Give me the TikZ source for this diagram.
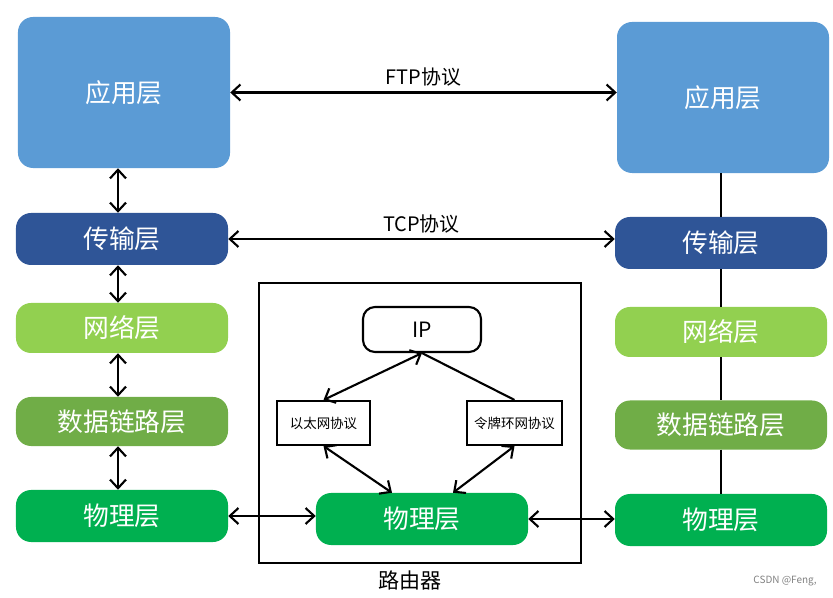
\documentclass[tikz,border=0pt]{standalone}
\usepackage{fontspec}
\setmainfont{Noto Sans CJK SC}
\usetikzlibrary{arrows.meta}

\definecolor{appblue}{HTML}{5B9BD5}
\definecolor{tcpblue}{HTML}{2F5597}
\definecolor{netgreen}{HTML}{92D050}
\definecolor{linkgreen}{HTML}{70AD47}
\definecolor{phygreen}{HTML}{00B050}

\tikzset{
  layer/.style={rounded corners=0.45cm, text=white, minimum width=6.36cm,
    font=\fontsize{22}{26}\selectfont, inner sep=0pt},
  proto/.style={draw, line width=1.8pt, minimum width=2.8cm, minimum height=1.32cm,
    font=\fontsize{11.5}{14}\selectfont, inner sep=0pt},
  link/.style={line width=1.8pt, {Straight Barb[length=2.6mm,width=4.8mm]}-{Straight Barb[length=2.6mm,width=4.8mm]}},
  plain/.style={line width=1.8pt},
  caption/.style={font=\fontsize{17}{20}\selectfont},
}

\begin{document}
\begin{tikzpicture}[x=0.03cm, y=-0.03cm]
\useasboundingbox (0,0) rectangle (833,598);

% left stack
\node[layer, fill=appblue, minimum height=4.53cm] (la) at (124,92.5) {应用层};
\node[layer, fill=tcpblue, minimum height=1.56cm] (lt) at (122,239) {传输层};
\node[layer, fill=netgreen, minimum height=1.5cm] (ln) at (122,328) {网络层};
\node[layer, fill=linkgreen, minimum height=1.47cm] (ld) at (122,421.5) {数据链路层};
\node[layer, fill=phygreen, minimum height=1.56cm] (lp) at (122,516) {物理层};

% right stack
\node[layer, fill=appblue, minimum height=4.53cm] (ra) at (723,97.5) {应用层};
\node[layer, fill=tcpblue, minimum height=1.56cm] (rt) at (721,243) {传输层};
\node[layer, fill=netgreen, minimum height=1.5cm] (rn) at (721,332) {网络层};
\node[layer, fill=linkgreen, minimum height=1.47cm] (rd) at (721,425) {数据链路层};
\node[layer, fill=phygreen, minimum height=1.56cm] (rp) at (721,520) {物理层};

% router
\node[draw, line width=1.8pt, minimum width=9.66cm, minimum height=8.4cm] (router) at (420,423) {};
\node[font=\fontsize{18}{21}\selectfont] (rlabel) at (410,580) {路由器};
\node[draw, line width=1.8pt, rounded corners=0.36cm, minimum width=3.54cm, minimum height=1.35cm,
  font=\fontsize{18}{21}\selectfont] (ip) at (422,329.5) {IP};
\node[proto] (eth) at (323.5,423) {以太网协议};
\node[proto, minimum width=2.85cm] (tok) at (514.5,423) {令牌环网协议};
\node[layer, fill=phygreen, minimum height=1.56cm] (rtp) at (422,519) {物理层};

\draw[link] ([xshift=-0.12cm]lt.north |- la.south) -- ([xshift=-0.12cm]lt.north);
\draw[link] ([xshift=-0.12cm]lt.south) -- ([xshift=-0.12cm]ln.north);
\draw[link] ([xshift=-0.12cm]ln.south) -- ([xshift=-0.12cm]ld.north);
\draw[link] ([xshift=-0.12cm]ld.south) -- ([xshift=-0.12cm]lp.north);

\draw[plain] (rt.north |- ra.south) -- (rt.north);
\draw[plain] (rt.south) -- (rn.north);
\draw[plain] (rn.south) -- (rd.north);
\draw[plain] (rd.south) -- (rp.north);

\draw[link] (la.east) -- node[caption, above=1pt] (ftp) {FTP协议} (la.east -| ra.west);
\draw[link] (lt.east) -- node[caption, above=1pt] (tcp) {TCP协议} (lt.east -| rt.west);

\draw[link] (ip.south) -- (eth.north);
\draw[plain] (ip.south) -- (tok.north);
\draw[link] (eth.south) -- ([xshift=-0.9cm]rtp.north);
\draw[link] (tok.south) -- ([xshift=0.93cm]rtp.north);

\draw[link] (lp.east) -- (lp.east -| rtp.west);
\draw[link] (rtp.east) -- (rtp.east -| rp.west);

\node[text=gray, font=\fontsize{8.5}{10}\selectfont] (mark) at (785,581) {CSDN @Feng,};
\end{tikzpicture}
\end{document}
